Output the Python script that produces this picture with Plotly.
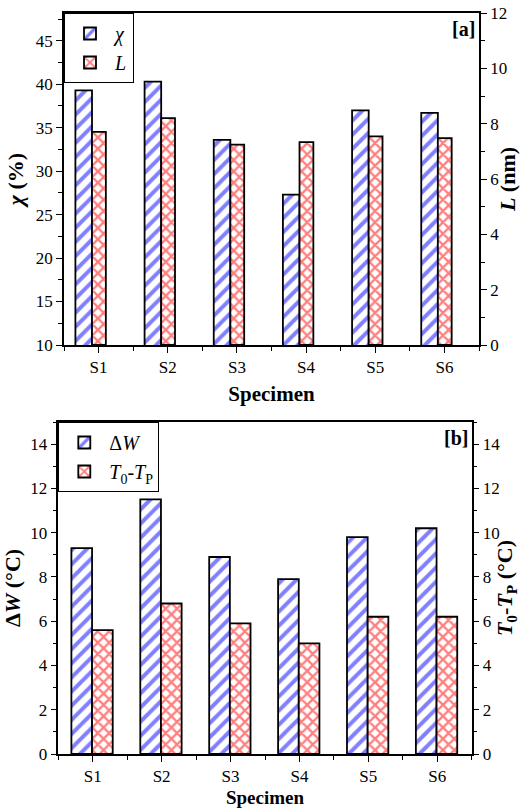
import plotly.graph_objects as go

categories = ["S1", "S2", "S3", "S4", "S5", "S6"]
chi_pct = [39.3, 40.3, 33.6, 27.3, 37.0, 36.7]
L_nm = [7.70, 8.20, 7.24, 7.33, 7.54, 7.48]
delta_W = [9.3, 11.5, 8.9, 7.9, 9.8, 10.2]
T0_TP = [5.6, 6.8, 5.9, 5.0, 6.2, 6.2]

xpos = list(range(len(categories)))
FONT = "Times New Roman, Liberation Serif, serif"
W, H = 520, 808

fig = go.Figure()

blue_pat = dict(shape="/", fgcolor="#0000FF", bgcolor="white", size=10, solidity=0.4)
red_pat = dict(shape="x", fgcolor="#FF0000", bgcolor="white", size=8, solidity=0.5)
outline = dict(color="black", width=1.8)

fig.add_trace(go.Bar(x=xpos, y=chi_pct, name="<i>χ</i>", xaxis="x", yaxis="y",
                     offset=-0.335, width=0.24,
                     marker=dict(color="white", pattern=blue_pat, line=outline),
                     legend="legend"))
fig.add_trace(go.Bar(x=xpos, y=L_nm, name="<i>L</i>", xaxis="x", yaxis="y2",
                     offset=-0.095, width=0.2,
                     marker=dict(color="white", pattern=red_pat, line=outline),
                     legend="legend"))
fig.add_trace(go.Bar(x=xpos, y=delta_W, name="Δ<i>W</i>", xaxis="x2", yaxis="y3",
                     offset=-0.31, width=0.3,
                     marker=dict(color="white", pattern=blue_pat, line=outline),
                     legend="legend2"))
fig.add_trace(go.Bar(x=xpos, y=T0_TP, name="<i>T</i><sub>0</sub>-<i>T</i><sub>P</sub>",
                     xaxis="x2", yaxis="y4",
                     offset=-0.01, width=0.3,
                     marker=dict(color="white", pattern=red_pat, line=outline),
                     legend="legend2"))

tickfont = dict(family=FONT, size=17, color="black")
titlefont = dict(family=FONT, size=22, color="black")

top_dom_x = [64 / W, 479 / W]
top_dom_y = [1 - 345 / H, 1 - 13 / H]
bot_dom_x = [58.3 / W, 471.7 / W]
bot_dom_y = [1 - 754 / H, 1 - 422 / H]

def xax(domain, anchor, tsize):
    return dict(domain=domain, anchor=anchor, range=[-0.5, 5.5],
                tickmode="array", tickvals=xpos, ticktext=categories,
                ticks="outside", ticklen=6, tickwidth=1.3, tickcolor="black",
                minor=dict(ticks="outside", ticklen=4, tick0=0.5, dtick=1, tickcolor="black", tickwidth=1.3),
                showline=True, linecolor="black", linewidth=1.5, mirror=True,
                showgrid=False, zeroline=False, tickfont=tickfont,
                title=dict(text="<b>Specimen</b>",
                           font=dict(family=FONT, size=tsize, color="black"), standoff=10),
                automargin=False)

def yax(domain, anchor, rng, dtick, mdtick, side="left", overlaying=None, title="", standoff=6):
    d = dict(domain=domain, anchor=anchor, range=rng, side=side,
             tick0=0, dtick=dtick,
             ticks="outside", ticklen=6, tickwidth=1.3, tickcolor="black",
             minor=dict(ticks="outside", ticklen=4, dtick=mdtick, tickcolor="black", tickwidth=1.3),
             showline=True, linecolor="black", linewidth=1.5,
             showgrid=False, zeroline=False, tickfont=tickfont,
             title=dict(text=title, font=titlefont, standoff=standoff),
             automargin=False)
    if overlaying:
        d["overlaying"] = overlaying
    return d

fig.update_layout(
    width=W, height=H,
    margin=dict(l=0, r=0, t=0, b=0),
    paper_bgcolor="white", plot_bgcolor="white",
    barmode="overlay",
    font=dict(family=FONT, color="black"),
    xaxis=xax(top_dom_x, "y", 21),
    yaxis=yax(top_dom_y, "x", [10, 48.2], 5, 2.5, title="<b><i>χ</i> (%)</b>"),
    yaxis2=yax(top_dom_y, "x", [0, 12], 2, 1, side="right", overlaying="y",
               title="<b><i>L</i> (nm)</b>", standoff=4),
    xaxis2=xax(bot_dom_x, "y3", 19),
    yaxis3=yax(bot_dom_y, "x2", [0, 15], 2, 1, title="<b>Δ<i>W</i> (°C)</b>"),
    yaxis4=yax(bot_dom_y, "x2", [0, 15], 2, 1, side="right", overlaying="y3",
               title="<b><i>T</i><sub>0</sub>-<i>T</i><sub>P</sub> (°C)</b>", standoff=2),
    legend=dict(x=64 / W, y=1 - 13 / H, xanchor="left", yanchor="top",
                bgcolor="white", bordercolor="black", borderwidth=1,
                font=dict(family=FONT, size=20, color="black"),
                tracegroupgap=0, itemwidth=40),
    legend2=dict(x=58.3 / W, y=1 - 422 / H, xanchor="left", yanchor="top",
                 bgcolor="white", bordercolor="black", borderwidth=1,
                 font=dict(family=FONT, size=20, color="black"),
                 tracegroupgap=0, itemwidth=40),
    showlegend=True,
    annotations=[
        dict(text="<b>[a]</b>", xref="x domain", yref="y domain", x=0.995, y=0.99,
             xanchor="right", yanchor="top", showarrow=False,
             font=dict(family=FONT, size=20, color="black")),
        dict(text="<b>[b]</b>", xref="x2 domain", yref="y3 domain", x=0.995, y=0.99,
             xanchor="right", yanchor="top", showarrow=False,
             font=dict(family=FONT, size=20, color="black")),
    ],
)

fig.write_html("out.html")
